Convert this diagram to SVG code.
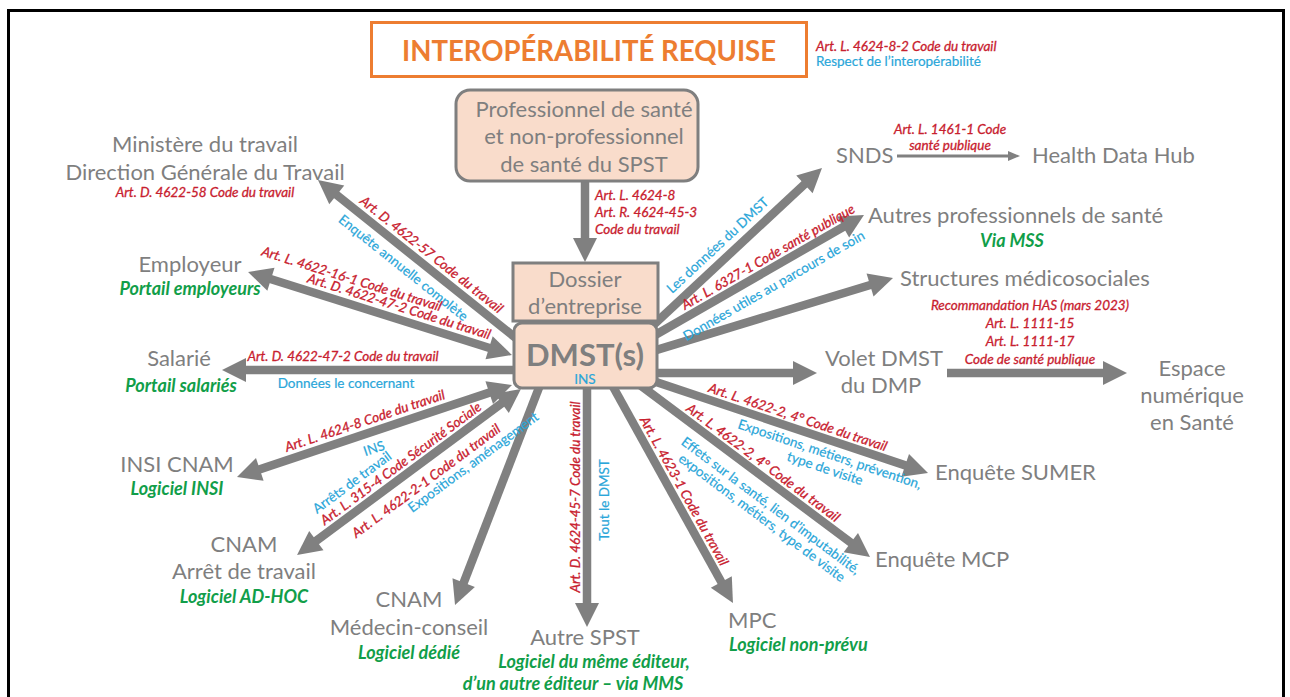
<svg xmlns="http://www.w3.org/2000/svg" width="1290" height="697" viewBox="0 0 1290 697">
<defs>
<marker id="h" markerUnits="userSpaceOnUse" markerWidth="24" markerHeight="24" viewBox="0 0 24 24" refX="8" refY="12" orient="auto-start-reverse" overflow="visible"><path d="M0,0 L24,12 L0,24 Z" fill="#808080"/></marker>
<marker id="hs" markerUnits="userSpaceOnUse" markerWidth="12" markerHeight="10" viewBox="0 0 12 10" refX="4" refY="5" orient="auto" overflow="visible"><path d="M0,0 L12,5 L0,10 Z" fill="#808080"/></marker>
<style>
text{font-family:Lato,"Liberation Sans",sans-serif}
.n{font-size:22px;fill:#7f7f7f}
.m{text-anchor:middle}
.r{font-size:13.5px;font-style:italic;fill:#c8202e;stroke:#c8202e;stroke-width:0.3}
.b{font-size:13.5px;fill:#2aa6d9;stroke:#2aa6d9;stroke-width:0.2}
.g{font-size:18px;font-style:italic;font-weight:bold;fill:#119e49}
.a{stroke:#808080;stroke-width:8.5;fill:none;marker-end:url(#h)}
.d{marker-start:url(#h)}
.box{fill:#f9dccb;stroke:#7f7f7f;stroke-width:3}
</style>
</defs>
<rect width="1290" height="697" fill="#fff"/>
<path d="M8.5,700 V10.5 H1283.5 V700" fill="none" stroke="#000" stroke-width="3"/>

<g id="title">
<rect x="371.5" y="22.5" width="435" height="54" fill="#fff" stroke="#ed7d31" stroke-width="3"/>
<text x="589" y="61" class="m" font-size="28" font-weight="bold" fill="#ed7d31" textLength="374" lengthAdjust="spacingAndGlyphs">INTEROPÉRABILITÉ REQUISE</text>
<text x="816" y="51" class="r" font-size="14">Art. L. 4624-8-2 Code du travail</text>
<text x="816" y="66" class="b" font-size="14">Respect de l’interopérabilité</text>
</g>

<g id="connectors">
<path class="a" d="M585,180 L585,246"/>
<path class="a" d="M519.8,341.2 L330.5,190"/>
<path class="a d" d="M496.7,350.2 L263.3,276.8"/>
<path class="a" d="M525,370 L238,370"/>
<path class="a d" d="M496.8,390.1 L252.2,471.9"/>
<path class="a d" d="M508.1,398.5 L309.9,545.5"/>
<path class="a" d="M543.6,375.7 L460.8,590.1"/>
<path class="a" d="M587,380 L587,611"/>
<path class="a" d="M607.2,376.3 L725.2,589"/>
<path class="a" d="M632,379 L857.2,547.4"/>
<path class="a" d="M640.5,376.8 L912.8,467.9"/>
<path class="a" d="M645,373 L801,373"/>
<path class="a" d="M640.4,354.9 L877.7,282.7"/>
<path class="a" d="M641.3,343 L850.1,223"/>
<path class="a" d="M640.7,336.8 L810.3,178.9"/>
<path class="a" d="M947,373 L1111,373"/>
<path d="M897,156 L1012,156" stroke="#808080" stroke-width="3" marker-end="url(#hs)"/>
</g>

<g id="labels">
<text x="595" y="200" class="r">Art. L. 4624-8</text>
<text x="595" y="217" class="r">Art. R. 4624-45-3</text>
<text x="595" y="234" class="r">Code du travail</text>
<g transform="translate(423.7,264.5) rotate(38.6)"><text y="-8" class="r m">Art. D. 4622-57 Code du travail</text></g>
<g transform="translate(412.8,255.8) rotate(38.6)"><text y="20" class="b m">Enquête annuelle complète</text></g>
<g transform="translate(344.3,302.3) rotate(17.4)"><text y="-20" class="r m">Art. L. 4622-16-1 Code du travail</text></g>
<g transform="translate(395.4,318.4) rotate(17.4)"><text y="-8" class="r m">Art. D. 4622-47-2 Code du travail</text></g>
<text x="343" y="361" class="r m">Art. D. 4622-47-2 Code du travail</text>
<text x="346" y="388" class="b m">Données le concernant</text>
<g transform="translate(368.8,432.9) rotate(-18.5)"><text y="-8" class="r m">Art. L. 4624-8 Code du travail</text><text y="21" class="b m">INS</text></g>
<g transform="translate(367.3,502.9) rotate(-36.5)"><text y="-21" class="b m">Arrêts de travail</text></g>
<g transform="translate(407.8,472.9) rotate(-36.5)"><text y="-7" class="r m">Art. L. 315-4 Code Sécurité Sociale</text></g>
<g transform="translate(415.8,466.9) rotate(-36.5)"><text y="22" class="r m">Art. L. 4622-2-1 Code du travail</text></g>
<g transform="translate(455.2,437.8) rotate(-36.5)"><text y="35" class="b m">Expositions, aménagement</text></g>
<g transform="translate(587,497) rotate(-90)"><text y="-7" class="r m">Art. D. 4624-45-7 Code du travail</text></g>
<g transform="translate(587,500) rotate(-90)"><text y="22" class="b m">Tout le DMST</text></g>
<g transform="translate(674,496.7) rotate(61)"><text y="-7" class="r m">Art. L. 4623-1 Code du travail</text></g>
<g transform="translate(756.1,471.9) rotate(36.8)"><text y="-7" class="r m">Art. L. 4622-2, 4° Code du travail</text></g>
<g transform="translate(781.8,491) rotate(36.8)"><text y="23" class="b m">Effets sur la santé, lien d’imputabilité,</text><text y="38" class="b m">expositions, métiers, type de visite</text></g>
<g transform="translate(794.1,428.2) rotate(18.5)"><text y="-7" class="r m">Art. L. 4622-2, 4° Code du travail</text></g>
<g transform="translate(834,441.5) rotate(18.5)"><text y="18" class="b m">Expositions, métiers, prévention,</text><text y="33" class="b m">type de visite</text></g>
<g transform="translate(727.6,256) rotate(-42.9)"><text y="-10" class="b m">Les données du DMST</text></g>
<g transform="translate(773.8,266.9) rotate(-29.9)"><text y="-7" class="r m">Art. L. 6327-1 Code santé publique</text></g>
<g transform="translate(765.7,271.5) rotate(-29.9)"><text y="21" class="b m">Données utiles au parcours de soin</text></g>
<text x="950" y="134" class="r m" font-size="12.5">Art. L. 1461-1 Code</text>
<text x="950" y="150" class="r m" font-size="12.5">santé publique</text>
<text x="1030" y="310" class="r m" font-size="14">Recommandation HAS (mars 2023)</text>
<text x="1030" y="328" class="r m" font-size="14">Art. L. 1111-15</text>
<text x="1030" y="346" class="r m" font-size="14">Art. L. 1111-17</text>
<text x="1030" y="364" class="r m" font-size="14">Code de santé publique</text>
</g>

<g id="prof">
<rect x="456" y="90" width="242" height="91" rx="14" class="box"/>
<text x="584" y="117" class="n m">Professionnel de santé</text>
<text x="584" y="144" class="n m">et non-professionnel</text>
<text x="584" y="172" class="n m">de santé du SPST</text>
</g>
<g id="dossier">
<rect x="513" y="263" width="145" height="58" class="box"/>
<text x="585" y="287" class="n m" font-size="24">Dossier</text>
<text x="585" y="314" class="n m" font-size="24">d’entreprise</text>
</g>
<g id="dmst">
<rect x="514" y="323" width="143" height="65" rx="8" class="box"/>
<text x="585" y="366" class="m" font-size="31" font-weight="bold" fill="#7f7f7f">DMST(s)</text>
<text x="585" y="384" class="b m" font-size="10">INS</text>
</g>
<g id="ministere">
<text x="205" y="152" class="n m">Ministère du travail</text>
<text x="205" y="180" class="n m">Direction Générale du Travail</text>
<text x="205" y="197" class="r m">Art. D. 4622-58 Code du travail</text>
</g>
<g id="employeur">
<text x="190" y="272" class="n m">Employeur</text>
<text x="190" y="295" class="g m">Portail employeurs</text>
</g>
<g id="salarie">
<text x="179" y="366" class="n m">Salarié</text>
<text x="181" y="392" class="g m">Portail salariés</text>
</g>
<g id="insi">
<text x="177" y="472" class="n m">INSI CNAM</text>
<text x="177" y="495" class="g m">Logiciel INSI</text>
</g>
<g id="cnam-arret">
<text x="244" y="552" class="n m">CNAM</text>
<text x="244" y="579" class="n m">Arrêt de travail</text>
<text x="244" y="603" class="g m">Logiciel AD-HOC</text>
</g>
<g id="cnam-medecin">
<text x="409" y="607" class="n m">CNAM</text>
<text x="409" y="635" class="n m">Médecin-conseil</text>
<text x="409" y="659" class="g m">Logiciel dédié</text>
</g>
<g id="autre-spst">
<text x="585" y="645" class="n m">Autre SPST</text>
<text x="594" y="668" class="g m" font-size="19">Logiciel du même éditeur,</text>
<text x="573" y="690" class="g m" font-size="19">d’un autre éditeur – via MMS</text>
</g>
<g id="mpc">
<text x="728" y="628" class="n">MPC</text>
<text x="729" y="651" class="g">Logiciel non-prévu</text>
</g>
<g id="mcp">
<text x="875" y="567" class="n">Enquête MCP</text>
</g>
<g id="sumer">
<text x="935" y="480" class="n">Enquête SUMER</text>
</g>
<g id="volet">
<text x="884" y="366" class="n m">Volet DMST</text>
<text x="881" y="393" class="n m">du DMP</text>
</g>
<g id="espace">
<text x="1192" y="376" class="n m">Espace</text>
<text x="1192" y="403" class="n m">numérique</text>
<text x="1192" y="430" class="n m">en Santé</text>
</g>
<g id="structures">
<text x="900" y="286" class="n">Structures médicosociales</text>
</g>
<g id="autres">
<text x="868" y="223" class="n">Autres professionnels de santé</text>
<text x="1012" y="247" class="g m">Via MSS</text>
</g>
<g id="snds">
<text x="836" y="163" class="n">SNDS</text>
</g>
<g id="hdh">
<text x="1032" y="163" class="n">Health Data Hub</text>
</g>
</svg>
